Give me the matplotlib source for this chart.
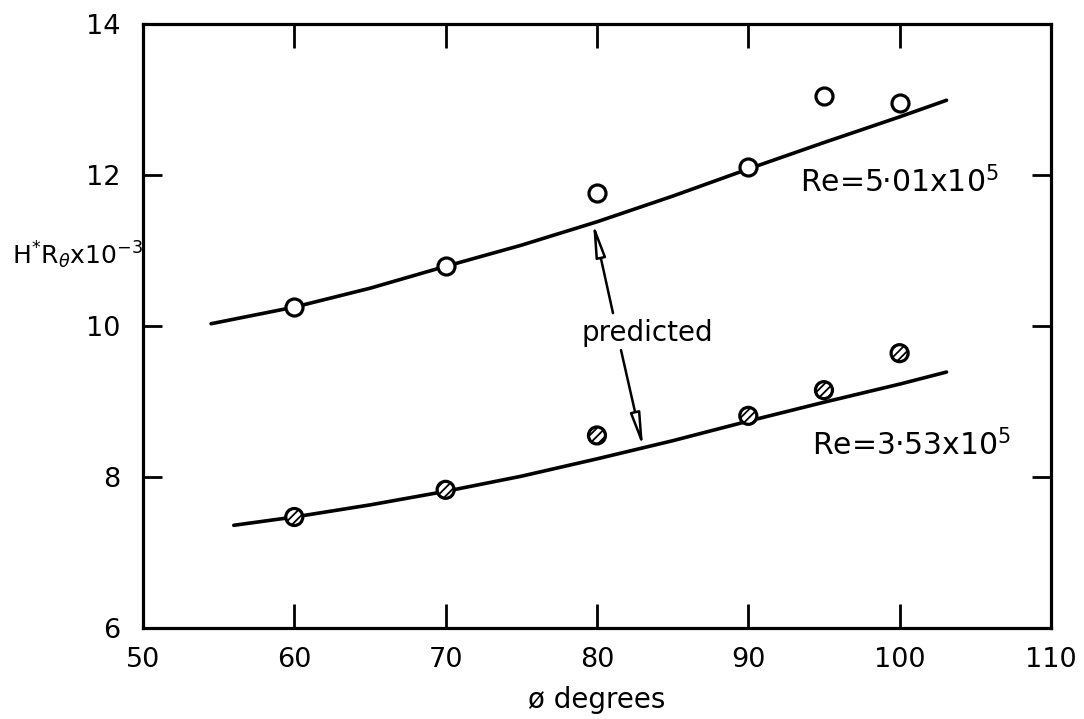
import numpy as np
import matplotlib
matplotlib.use('Agg')
import matplotlib.pyplot as plt

# measured points
phi = [60, 70, 80, 90, 95, 100]
upper_pts = [10.25, 10.79, 11.76, 12.11, 13.05, 12.96]   # Re = 5.01e5
lower_pts = [7.47, 7.83, 8.55, 8.81, 9.15, 9.64]         # Re = 3.53e5

# predicted curves
upper_x = [54.5, 60, 65, 70, 75, 80, 85, 90, 95, 100, 103.1]
upper_y = [10.03, 10.25, 10.50, 10.79, 11.07, 11.38, 11.72, 12.08, 12.43, 12.77, 12.99]
lower_x = [56, 60, 65, 70, 75, 80, 85, 90, 95, 100, 103.1]
lower_y = [7.36, 7.47, 7.63, 7.81, 8.01, 8.24, 8.48, 8.74, 8.99, 9.23, 9.39]

xticks = [50, 60, 70, 80, 90, 100, 110]
yticks = [6, 8, 10, 12, 14]

plt.rcParams['hatch.linewidth'] = 1.3

fig = plt.figure(figsize=(10.84, 7.19), dpi=100)
ax = fig.add_axes([0.1319, 0.1266, 0.8376, 0.84])

ax.plot(upper_x, upper_y, color='k', lw=2.6, solid_capstyle='round')
ax.plot(lower_x, lower_y, color='k', lw=2.6, solid_capstyle='round')

ax.scatter(phi, upper_pts, s=150, facecolor='white', edgecolor='k', linewidths=2.3, zorder=3)
ax.scatter(phi, lower_pts, s=150, facecolor='white', edgecolor='k', linewidths=2.3,
           hatch='////', zorder=3)

# predicted label with arrows to both curves
ax.text(83.3, 9.91, 'predicted', fontsize=20, ha='center', va='center')
arrow = dict(arrowstyle='-|>,head_length=2.0,head_width=0.3', color='k', lw=1.8,
             shrinkA=0, shrinkB=0, fc='white')
ax.annotate('', xy=(79.74, 11.37), xytext=(81.06, 10.17), arrowprops=arrow)
ax.annotate('', xy=(83.05, 8.39), xytext=(81.59, 9.68), arrowprops=arrow)

ax.text(93.4, 11.9, 'Re=5·01x10$^5$', fontsize=21.5, ha='left', va='center')
ax.text(94.2, 8.42, 'Re=3·53x10$^5$', fontsize=21.5, ha='left', va='center')

ax.set_xlim(50, 110)
ax.set_ylim(6, 14)
ax.set_xticks(xticks)
ax.set_yticks(yticks)
ax.tick_params(direction='in', top=True, right=True, length=17, width=2,
               labelsize=19.5, pad=14)
ax.tick_params(axis='y', length=14, pad=16)
for s in ax.spines.values():
    s.set_linewidth(2.3)

ax.set_xlabel('ø degrees', fontsize=20, labelpad=9)
fig.text(12 / 1084, 1 - 255 / 719, r'H$^{*}$R$_{\theta}$x10$^{-3}$', fontsize=18,
         ha='left', va='center')

fig.savefig('out.png', dpi=100)
